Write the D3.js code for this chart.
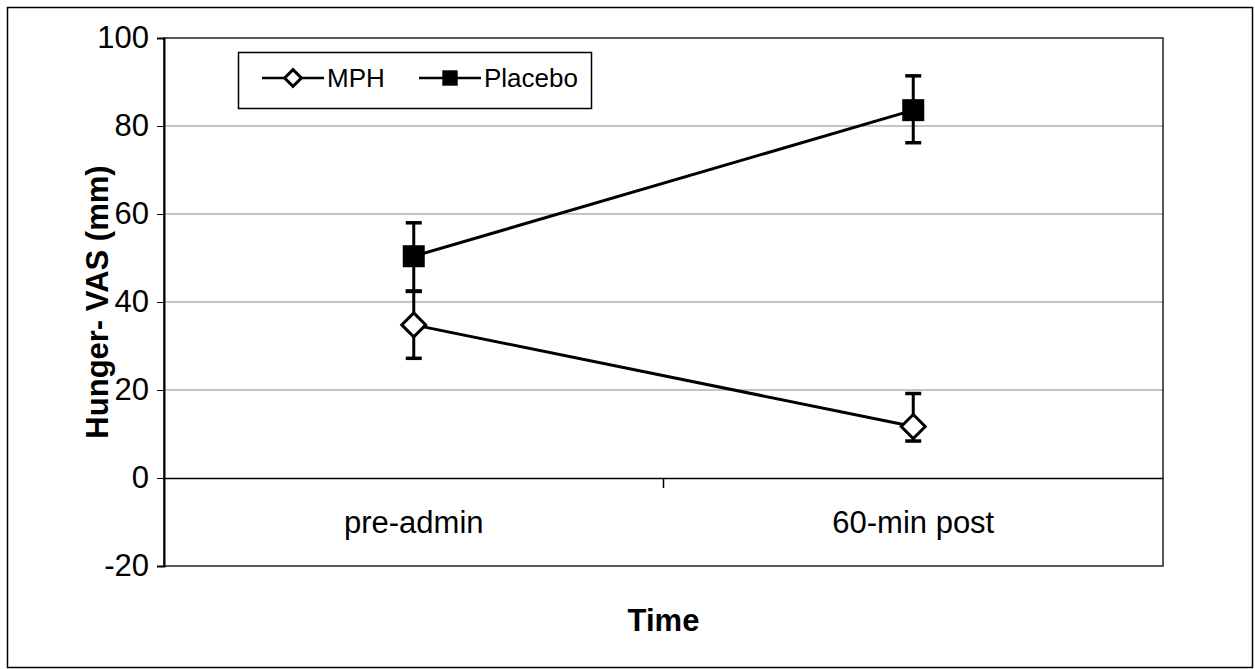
<!DOCTYPE html>
<meta charset="utf-8">
<style>
body { margin: 0; background: #fff; }
text { font-family: "Liberation Sans", Arial, sans-serif; }
</style>
<svg width="1255" height="669"></svg>
<script src="https://d3js.org/d3.v7.min.js"></script>
<script>

var categories = ["pre-admin", "60-min post"];
var mphMean = [34.8, 11.7];
var mphUp = [7.6, 7.5];
var mphDown = [7.6, 3.3];
var placeboMean = [50.4, 83.6];
var placeboUp = [7.6, 7.8];
var placeboDown = [7.9, 7.4];
var yTicks = [-20, 0, 20, 40, 60, 80, 100];

var svg = d3.select("svg");
var margin = {top: 38, right: 92, bottom: 103, left: 164},
    width = 1255 - margin.left - margin.right,
    height = 669 - margin.top - margin.bottom;

// outer chart frame
svg.append("rect")
  .attr("x", 7.5).attr("y", 7.5)
  .attr("width", 1245).attr("height", 660)
  .attr("fill", "none").attr("stroke", "#000").attr("stroke-width", 1.5);

var g = svg.append("g").attr("transform", "translate(" + margin.left + "," + margin.top + ")");

var x = d3.scaleBand().domain(categories).range([0, width]);
var y = d3.scaleLinear().domain([-20, 100]).range([height, 0]);

// gridlines
g.append("g").selectAll("line")
  .data(yTicks.filter(function(d) { return d !== 0 && d !== -20 && d !== 100; }))
  .enter().append("line")
  .attr("x1", 0).attr("x2", width)
  .attr("y1", function(d) { return y(d); }).attr("y2", function(d) { return y(d); })
  .attr("stroke", "#8a8a8a").attr("stroke-width", 1.2);

// plot border
g.append("rect")
  .attr("width", width).attr("height", height)
  .attr("fill", "none").attr("stroke", "#222").attr("stroke-width", 1.5);

// y axis
var yAxis = g.append("g")
  .call(d3.axisLeft(y).tickValues(yTicks).tickSize(7).tickPadding(8)
    .tickFormat(function(d) { return String(d); }));
yAxis.select(".domain").attr("stroke-width", 2);
yAxis.selectAll("text").attr("font-size", 31).attr("fill", "#000");

// x axis at y=0
var xAxis = g.append("g")
  .attr("transform", "translate(0," + y(0) + ")")
  .call(d3.axisBottom(x).tickSize(0).tickPadding(33));
xAxis.select(".domain").attr("stroke-width", 1.5);
xAxis.selectAll("text").attr("font-size", 31).attr("fill", "#000");
g.append("line")
  .attr("x1", width / 2).attr("x2", width / 2)
  .attr("y1", y(0)).attr("y2", y(0) + 10)
  .attr("stroke", "#000").attr("stroke-width", 1.5);

// axis titles
svg.append("text")
  .attr("transform", "translate(108," + (margin.top + height / 2) + ") rotate(-90)")
  .attr("text-anchor", "middle")
  .attr("font-size", 31).attr("font-weight", "bold")
  .text("Hunger- VAS (mm)");
svg.append("text")
  .attr("x", margin.left + width / 2).attr("y", 631)
  .attr("text-anchor", "middle")
  .attr("font-size", 31).attr("font-weight", "bold")
  .text("Time");

var cx = function(i) { return x(categories[i]) + x.bandwidth() / 2; };
var line = d3.line().x(function(d, i) { return cx(i); }).y(function(d) { return y(d); });

function drawSeries(mean, up, down, shape) {
  var s = g.append("g");
  s.append("path").datum(mean)
    .attr("d", line).attr("fill", "none").attr("stroke", "#000").attr("stroke-width", 3);
  mean.forEach(function(m, i) {
    var px = cx(i);
    s.append("line")
      .attr("x1", px).attr("x2", px)
      .attr("y1", y(m + up[i])).attr("y2", y(m - down[i]))
      .attr("stroke", "#000").attr("stroke-width", 3);
    [m + up[i], m - down[i]].forEach(function(v) {
      s.append("line")
        .attr("x1", px - 8).attr("x2", px + 8)
        .attr("y1", y(v)).attr("y2", y(v))
        .attr("stroke", "#000").attr("stroke-width", 3.5);
    });
  });
  mean.forEach(function(m, i) {
    shape(s, cx(i), y(m), 1);
  });
}

function square(sel, px, py, k) {
  var h = 11 * k;
  sel.append("rect")
    .attr("x", px - h).attr("y", py - h)
    .attr("width", 2 * h).attr("height", 2 * h)
    .attr("fill", "#000");
}
function diamond(sel, px, py, k) {
  var h = 12 * k;
  sel.append("path")
    .attr("d", "M" + px + "," + (py - h) + "L" + (px + h) + "," + py + "L" + px + "," + (py + h) + "L" + (px - h) + "," + py + "Z")
    .attr("fill", "#fff").attr("stroke", "#000").attr("stroke-width", 3);
}

drawSeries(placeboMean, placeboUp, placeboDown, square);
drawSeries(mphMean, mphUp, mphDown, diamond);

// legend
var lg = svg.append("g");
lg.append("rect")
  .attr("x", 238.5).attr("y", 52.5).attr("width", 353).attr("height", 56)
  .attr("fill", "#fff").attr("stroke", "#000").attr("stroke-width", 1.5);
var items = [
  {name: "MPH", x0: 262, shape: diamond},
  {name: "Placebo", x0: 419, shape: square}
];
items.forEach(function(it) {
  lg.append("line")
    .attr("x1", it.x0).attr("x2", it.x0 + 62)
    .attr("y1", 78).attr("y2", 78)
    .attr("stroke", "#000").attr("stroke-width", 2.5);
  it.shape(lg, it.x0 + 31, 78, 0.7);
  lg.append("text")
    .attr("x", it.x0 + 65).attr("y", 87)
    .attr("font-size", 26)
    .text(it.name);
});

</script>
